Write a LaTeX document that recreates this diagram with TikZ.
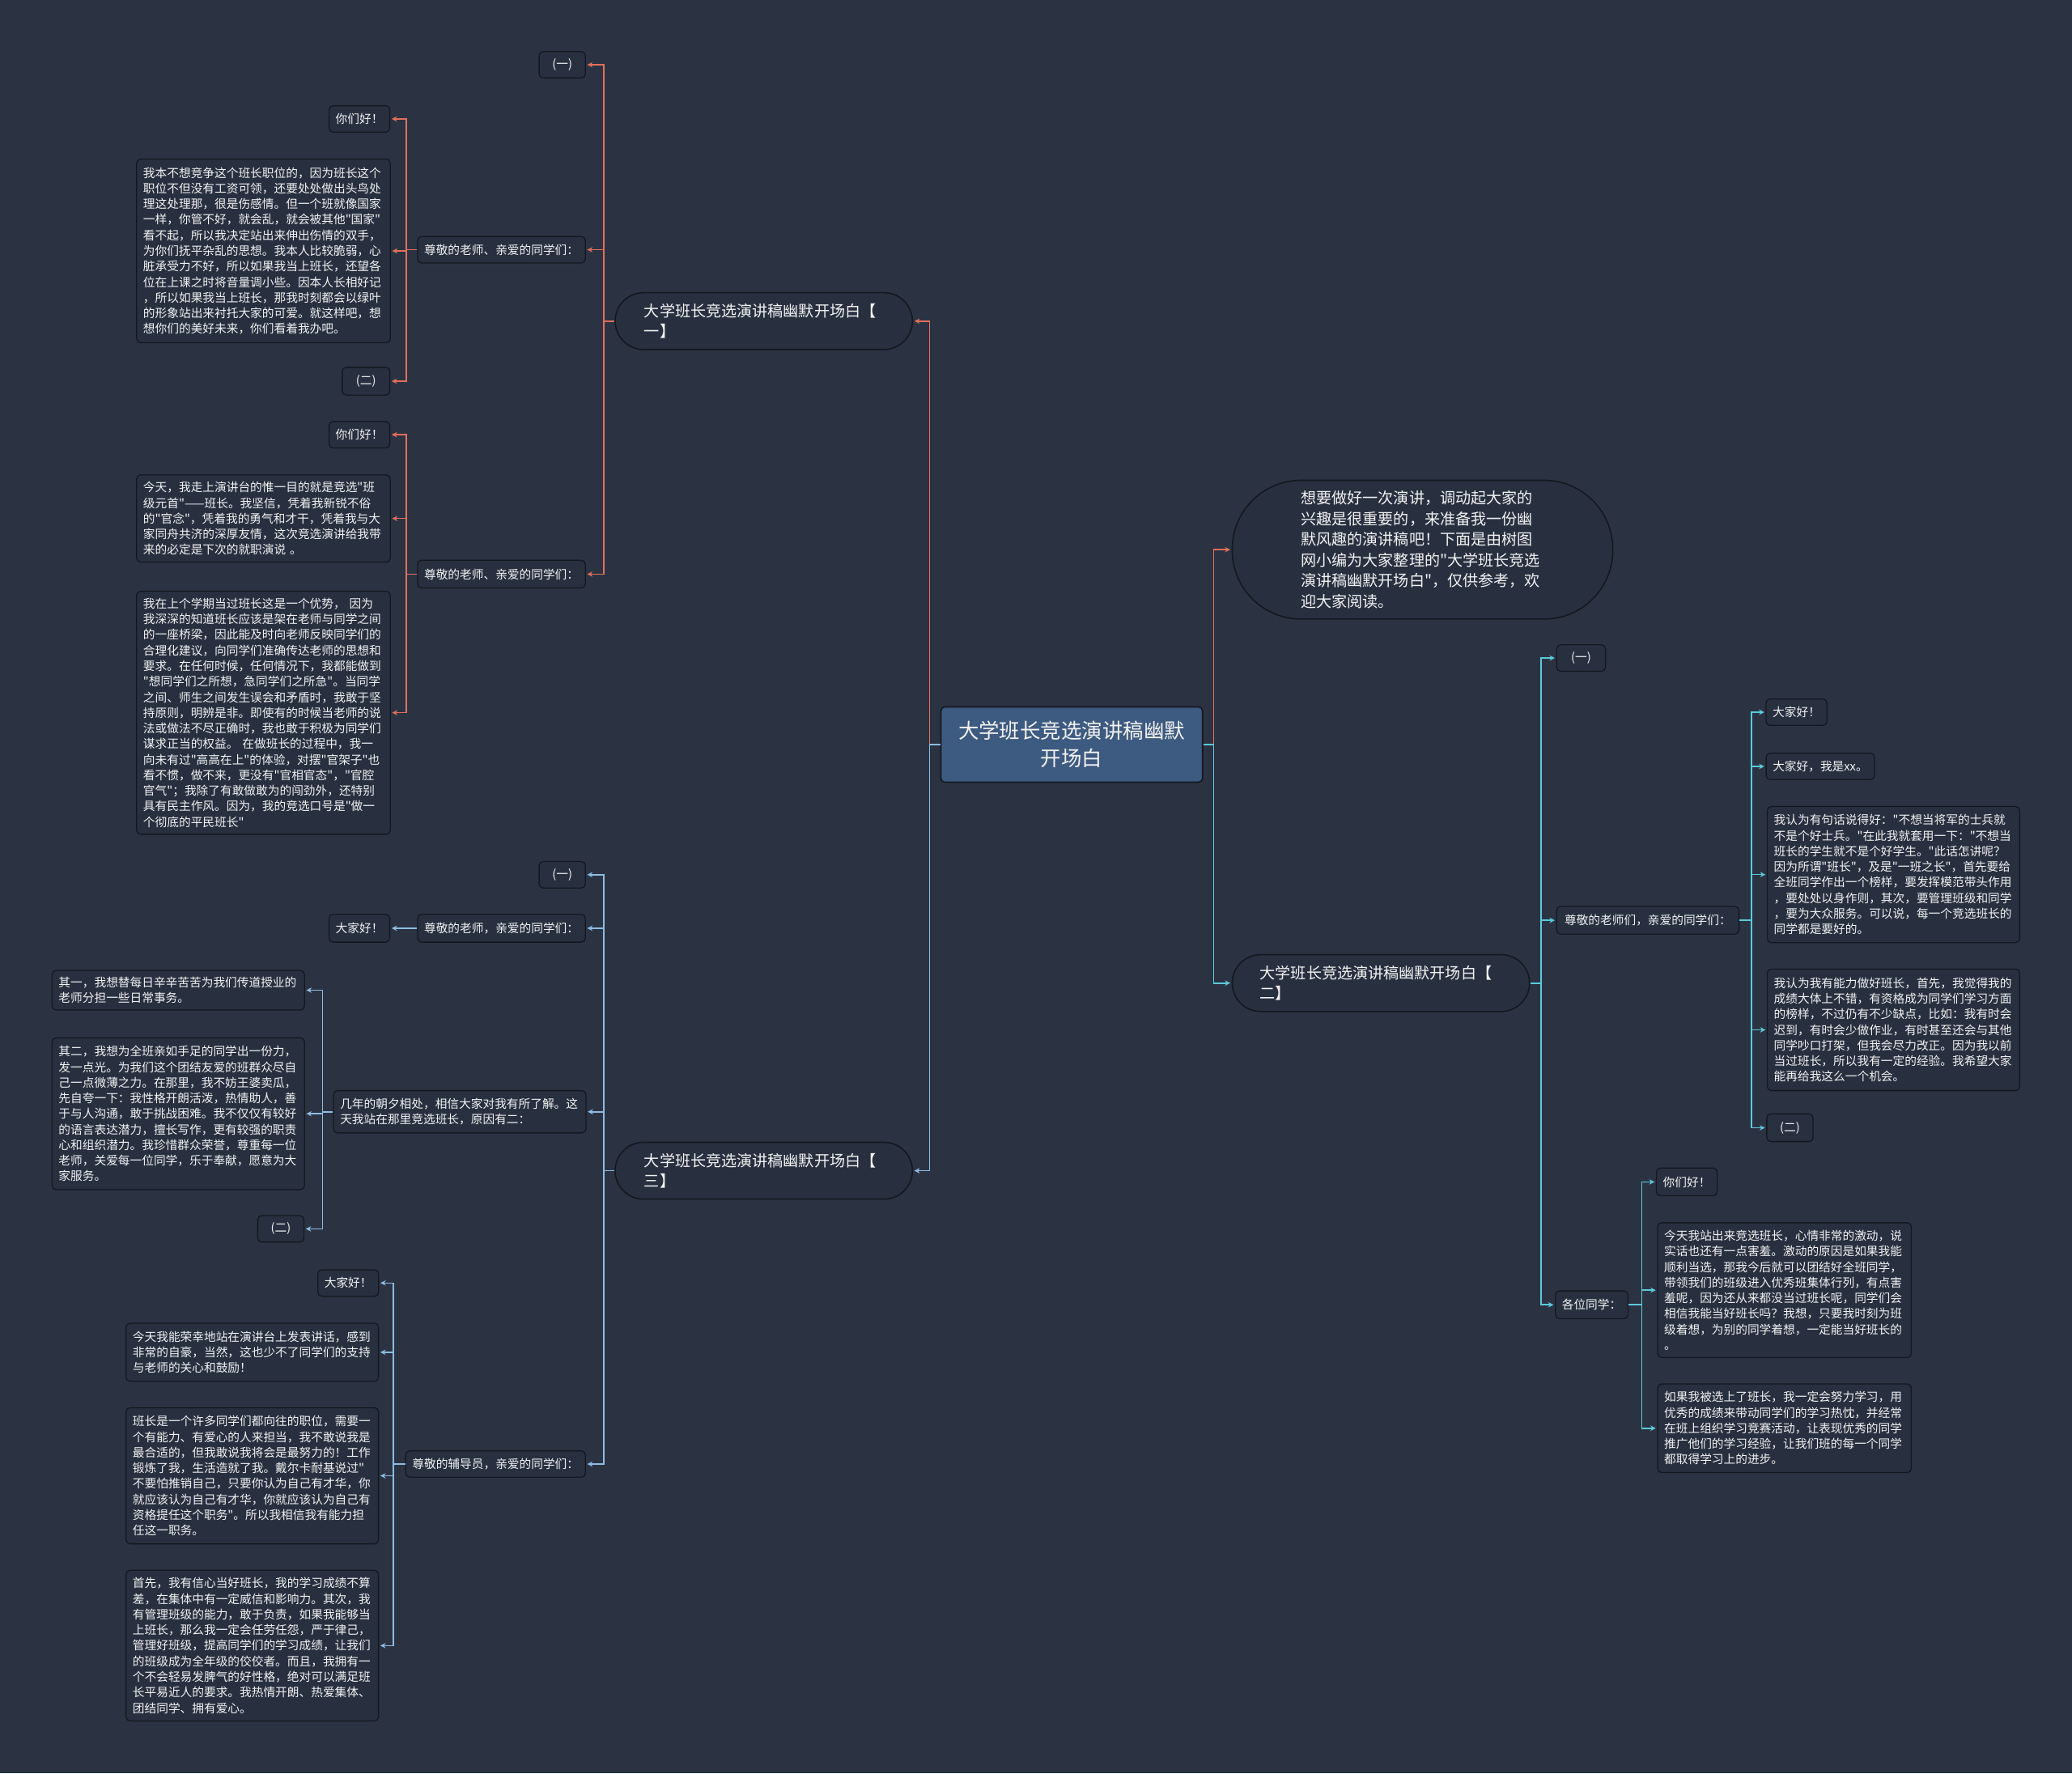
\documentclass[tikz,border=0pt]{standalone}
\usepackage{fontspec}
\setmainfont{Noto Sans CJK SC}[Ligatures=TeXOff]
\usetikzlibrary{arrows.meta}
\definecolor{bg}{HTML}{2B3343}
\definecolor{nodefill}{HTML}{283040}
\definecolor{edgec}{HTML}{14181E}
\definecolor{rootfill}{HTML}{3D5A80}
\definecolor{cred}{HTML}{E2705A}
\definecolor{cblue}{HTML}{8EBCE0}
\definecolor{ccyan}{HTML}{5CCAD9}
\definecolor{txt}{HTML}{F2F2F2}
\begin{document}
\begin{tikzpicture}[x=1pt,y=-1pt,
  every node/.style={text=txt, inner sep=0pt},
  leaf/.style={draw=edgec, fill=nodefill, line width=0.8pt, rounded corners=3pt,
    font=\fontsize{9}{11.8}\selectfont, inner xsep=5pt, inner ysep=3pt},
  block/.style={leaf, align=left, anchor=north west},
  pill/.style={draw=edgec, fill=nodefill, line width=1pt,
    font=\fontsize{11.7}{15.6}\selectfont, align=left, anchor=north west},
  rootbox/.style={draw=edgec, fill=rootfill, line width=1pt, rounded corners=3pt,
    font=\fontsize{15.6}{21}\selectfont, align=center},
  conn/.style={line width=1pt, -{Stealth[length=4pt,width=4pt]}, shorten >=1pt},
  lred/.style={conn, draw=cred},
  lblue/.style={conn, draw=cblue},
  lcyan/.style={conn, draw=ccyan}
]
\useasboundingbox (0,0) rectangle (1568,1342);
\fill[bg] (0,0) rectangle (1568,1342);

% root
\node[rootbox, minimum width=198pt, minimum height=57pt] (root) at (811,563.5) {大学班长竞选演讲稿幽默\\开场白};

% ===== right side =====
\node[pill, rounded corners=52pt, minimum height=105pt, inner xsep=52pt, text width=184pt] (intro) at (932,363)
 {想要做好一次演讲，调动起大家的\\兴趣是很重要的，来准备我一份幽\\默风趣的演讲稿吧！下面是由树图\\网小编为大家整理的"大学班长竞选\\演讲稿幽默开场白"，仅供参考，欢\\迎大家阅读。};

\node[pill, rounded corners=21.5pt, minimum height=43pt, inner xsep=21pt, text width=183pt] (b2) at (932,722)
 {大学班长竞选演讲稿幽默开场白【\\二】};

\node[leaf, minimum width=37pt, minimum height=20pt] (b2a) at (1196.5,498) {(一)};
\node[leaf, minimum width=138pt, minimum height=21pt] (b2b) at (1247,696.5) {尊敬的老师们，亲爱的同学们：};
\node[leaf, minimum width=53pt, minimum height=21pt] (b2c) at (1204.5,987.5) {各位同学：};

\node[leaf, minimum width=45pt, minimum height=20pt] (b2b1) at (1359.5,539) {大家好！};
\node[leaf, minimum width=81pt, minimum height=20pt] (b2b2) at (1377.5,580) {大家好，我是xx。};
\node[block, text width=181pt, minimum height=103pt] (b2b3) at (1337,610)
 {我认为有句话说得好："不想当将军的士兵就\\不是个好士兵。"在此我就套用一下："不想当\\班长的学生就不是个好学生。"此话怎讲呢？\\因为所谓"班长"，及是"一班之长"，首先要给\\全班同学作出一个榜样，要发挥模范带头作用\\，要处处以身作则，其次，要管理班级和同学\\，要为大众服务。可以说，每一个竞选班长的\\同学都是要好的。};
\node[block, text width=181pt, minimum height=92pt] (b2b4) at (1337,733)
 {我认为我有能力做好班长，首先，我觉得我的\\成绩大体上不错，有资格成为同学们学习方面\\的榜样，不过仍有不少缺点，比如：我有时会\\迟到，有时会少做作业，有时甚至还会与其他\\同学吵口打架，但我会尽力改正。因为我以前\\当过班长，所以我有一定的经验。我希望大家\\能再给我这么一个机会。};
\node[leaf, minimum width=35pt, minimum height=21pt] (b2b5) at (1354.5,853.5) {(二)};

\node[leaf, minimum width=45pt, minimum height=21pt] (b2c1) at (1276.5,894.5) {你们好！};
\node[block, text width=182pt, minimum height=102pt] (b2c2) at (1254,925)
 {今天我站出来竞选班长，心情非常的激动，说\\实话也还有一点害羞。激动的原因是如果我能\\顺利当选，那我今后就可以团结好全班同学，\\带领我们的班级进入优秀班集体行列，有点害\\羞呢，因为还从来都没当过班长呢，同学们会\\相信我能当好班长吗？我想，只要我时刻为班\\级着想，为别的同学着想，一定能当好班长的\\。};
\node[block, text width=182pt, minimum height=67pt] (b2c3) at (1254,1047)
 {如果我被选上了班长，我一定会努力学习，用\\优秀的成绩来带动同学们的学习热忱，并经常\\在班上组织学习竞赛活动，让表现优秀的同学\\推广他们的学习经验，让我们班的每一个同学\\都取得学习上的进步。};

% ===== left top branch =====
\node[pill, rounded corners=21.5pt, minimum height=43pt, inner xsep=22pt, text width=181pt] (b1) at (465,221)
 {大学班长竞选演讲稿幽默开场白【\\一】};

\node[leaf, minimum width=35pt, minimum height=20pt] (b1a) at (425.5,49) {(一)};
\node[leaf, minimum width=127pt, minimum height=20pt] (b1b) at (379.5,189) {尊敬的老师、亲爱的同学们：};
\node[leaf, minimum width=127pt, minimum height=21pt] (b1c) at (379.5,434.5) {尊敬的老师、亲爱的同学们：};

\node[leaf, minimum width=46pt, minimum height=20pt] (b1b1) at (272,90) {你们好！};
\node[block, text width=182pt, minimum height=139pt] (b1b2) at (103,120)
 {我本不想竞争这个班长职位的，因为班长这个\\职位不但没有工资可领，还要处处做出头鸟处\\理这处理那，很是伤感情。但一个班就像国家\\一样，你管不好，就会乱，就会被其他"国家"\\看不起，所以我决定站出来伸出伤情的双手，\\为你们抚平杂乱的思想。我本人比较脆弱，心\\脏承受力不好，所以如果我当上班长，还望各\\位在上课之时将音量调小些。因本人长相好记\\，所以如果我当上班长，那我时刻都会以绿叶\\的形象站出来衬托大家的可爱。就这样吧，想\\想你们的美好未来，你们看着我办吧。};
\node[leaf, minimum width=36pt, minimum height=21pt] (b1b3) at (277,288.5) {(二)};

\node[leaf, minimum width=46pt, minimum height=20pt] (b1c1) at (272,329) {你们好！};
\node[block, text width=182pt, minimum height=66pt] (b1c2) at (103,359)
 {今天，我走上演讲台的惟一目的就是竞选"班\\级元首"——班长。我坚信，凭着我新锐不俗\\的"官念"，凭着我的勇气和才干，凭着我与大\\家同舟共济的深厚友情，这次竞选演讲给我带\\来的必定是下次的就职演说 。};
\node[block, text width=182pt, minimum height=184pt] (b1c3) at (103,447)
 {我在上个学期当过班长这是一个优势，\ 因为\\我深深的知道班长应该是架在老师与同学之间\\的一座桥梁，因此能及时向老师反映同学们的\\合理化建议，向同学们准确传达老师的思想和\\要求。在任何时候，任何情况下，我都能做到\\"想同学们之所想，急同学们之所急"。当同学\\之间、师生之间发生误会和矛盾时，我敢于坚\\持原则，明辨是非。即使有的时候当老师的说\\法或做法不尽正确时，我也敢于积极为同学们\\谋求正当的权益。\ 在做班长的过程中，我一\\向未有过"高高在上"的体验，对摆"官架子"也\\看不惯，做不来，更没有"官相官态"，"官腔\\官气"；我除了有敢做敢为的闯劲外，还特别\\具有民主作风。因为，我的竞选口号是"做一\\个彻底的平民班长"};

% ===== left bottom branch =====
\node[pill, rounded corners=21.5pt, minimum height=43pt, inner xsep=22pt, text width=181pt] (b3) at (465,864)
 {大学班长竞选演讲稿幽默开场白【\\三】};

\node[leaf, minimum width=35pt, minimum height=20pt] (b3a) at (425.5,662) {(一)};
\node[leaf, minimum width=127pt, minimum height=21pt] (b3b) at (379.5,702.5) {尊敬的老师，亲爱的同学们：};
\node[leaf, minimum width=46pt, minimum height=21pt] (b3b1) at (272,702.5) {大家好！};
\node[block, text width=181pt, minimum height=32pt] (b3c) at (252,825)
 {几年的朝夕相处，相信大家对我有所了解。这\\天我站在那里竞选班长，原因有二：};
\node[block, text width=181pt, minimum height=30pt] (b3c1) at (39,734)
 {其一，我想替每日辛辛苦苦为我们传道授业的\\老师分担一些日常事务。};
\node[block, text width=181pt, minimum height=115pt] (b3c2) at (39,785)
 {其二，我想为全班亲如手足的同学出一份力，\\发一点光。为我们这个团结友爱的班群众尽自\\己一点微薄之力。在那里，我不妨王婆卖瓜，\\先自夸一下：我性格开朗活泼，热情助人，善\\于与人沟通，敢于挑战困难。我不仅仅有较好\\的语言表达潜力，擅长写作，更有较强的职责\\心和组织潜力。我珍惜群众荣誉，尊重每一位\\老师，关爱每一位同学，乐于奉献，愿意为大\\家服务。};
\node[leaf, minimum width=35pt, minimum height=20pt] (b3c3) at (212.5,930) {(二)};

\node[leaf, minimum width=136pt, minimum height=20pt] (b3d) at (375,1108) {尊敬的辅导员，亲爱的同学们：};
\node[leaf, minimum width=45pt, minimum height=20pt] (b3d1) at (263.5,971) {大家好！};
\node[block, text width=181pt, minimum height=44pt] (b3d2) at (95,1001)
 {今天我能荣幸地站在演讲台上发表讲话，感到\\非常的自豪，当然，这也少不了同学们的支持\\与老师的关心和鼓励！};
\node[block, text width=181pt, minimum height=103pt] (b3d3) at (95,1065)
 {班长是一个许多同学们都向往的职位，需要一\\个有能力、有爱心的人来担当，我不敢说我是\\最合适的，但我敢说我将会是最努力的！工作\\锻炼了我，生活造就了我。戴尔卡耐基说过"\\不要怕推销自己，只要你认为自己有才华，你\\就应该认为自己有才华，你就应该认为自己有\\资格提任这个职务"。所以我相信我有能力担\\任这一职务。};
\node[block, text width=181pt, minimum height=114pt] (b3d4) at (95,1188)
 {首先，我有信心当好班长，我的学习成绩不算\\差，在集体中有一定威信和影响力。其次，我\\有管理班级的能力，敢于负责，如果我能够当\\上班长，那么我一定会任劳任怨，严于律己，\\管理好班级，提高同学们的学习成绩，让我们\\的班级成为全年级的佼佼者。而且，我拥有一\\个不会轻易发脾气的好性格，绝对可以满足班\\长平易近人的要求。我热情开朗、热爱集体、\\团结同学、拥有爱心。};

% ===== connectors =====
\draw[lred] (root.east) -- ++(8,0) |- (intro.west);
\draw[lcyan] (root.east) -- ++(8,0) |- (b2.west);
\draw[lred] (root.west) -- ++(-8,0) |- (b1.east);
\draw[lblue] (root.west) -- ++(-8,0) |- (b3.east);

\foreach \c in {b2a,b2b,b2c} \draw[lcyan] (b2.east) -- ++(8,0) |- (\c.west);
\foreach \c in {b2b1,b2b2,b2b3,b2b4,b2b5} \draw[lcyan] (b2b.east) -- ++(9,0) |- (\c.west);
\foreach \c in {b2c1,b2c2,b2c3} \draw[lcyan] (b2c.east) -- ++(10,0) |- (\c.west);

\foreach \c in {b1a,b1b,b1c} \draw[lred] (b1.west) -- ++(-8,0) |- (\c.east);
\foreach \c in {b1b1,b1b2,b1b3} \draw[lred] (b1b.west) -- ++(-8,0) |- (\c.east);
\foreach \c in {b1c1,b1c2,b1c3} \draw[lred] (b1c.west) -- ++(-8,0) |- (\c.east);

\foreach \c in {b3a,b3b,b3c,b3d} \draw[lblue] (b3.west) -- ++(-8,0) |- (\c.east);
\draw[lblue] (b3b.west) -- (b3b1.east);
\foreach \c in {b3c1,b3c2,b3c3} \draw[lblue] (b3c.west) -- ++(-8,0) |- (\c.east);
\foreach \c in {b3d1,b3d2,b3d3,b3d4} \draw[lblue] (b3d.west) -- ++(-9,0) |- (\c.east);
\end{tikzpicture}
\end{document}
